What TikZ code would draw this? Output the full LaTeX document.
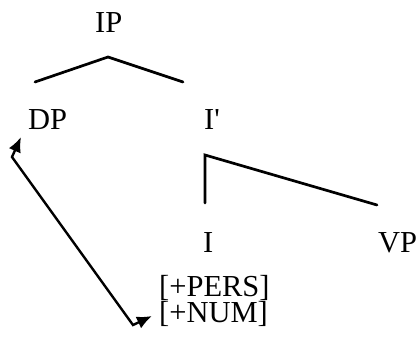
\documentclass[tikz,border=0pt]{standalone}
\usepackage{fontspec}
\setmainfont{Liberation Serif}
\newfontfamily\plainserif{Liberation Serif}
\usetikzlibrary{arrows.meta}
\begin{document}
\begin{tikzpicture}[x=1pt,y=-1pt,
  lbl/.style={anchor=base west,inner sep=0pt,font=\fontsize{30.5}{25.5}\selectfont},
  branch/.style={line width=2.7pt,line cap=round,line join=miter},
  link/.style={line width=2.4pt,{Latex[length=15pt,width=13pt]}-{Latex[length=15pt,width=13pt]}}]
\useasboundingbox (0,0) rectangle (417,340);
\node[lbl] (ip) at (95,32) {IP};
\node[lbl] (dp) at (28,129) {DP};
\node[lbl] (ibar) at (204,129) {I{\plainserif '}};
\node[lbl] (i) at (203,252) {I};
\node[lbl] (vp) at (378,252) {VP};
\node[lbl,align=left] (feat) at (159,322) {[+PERS]\\\relax[+NUM]};
\coordinate (ipL) at (35,82);
\coordinate (ipA) at (108,57);
\coordinate (ipR) at (183,82);
\coordinate (ibB) at (205,203);
\coordinate (ibA) at (205,155);
\coordinate (ibR) at (377,205);
\coordinate (tipA) at (21,137);
\coordinate (bendA) at (12,157);
\coordinate (bendB) at (133,325);
\coordinate (tipB) at (152,316);
\draw[branch] (ipL) -- (ipA) -- (ipR);
\draw[branch] (ibB) -- (ibA) -- (ibR);
\draw[link] (tipA) -- (bendA) -- (bendB) -- (tipB);
\end{tikzpicture}
\end{document}
